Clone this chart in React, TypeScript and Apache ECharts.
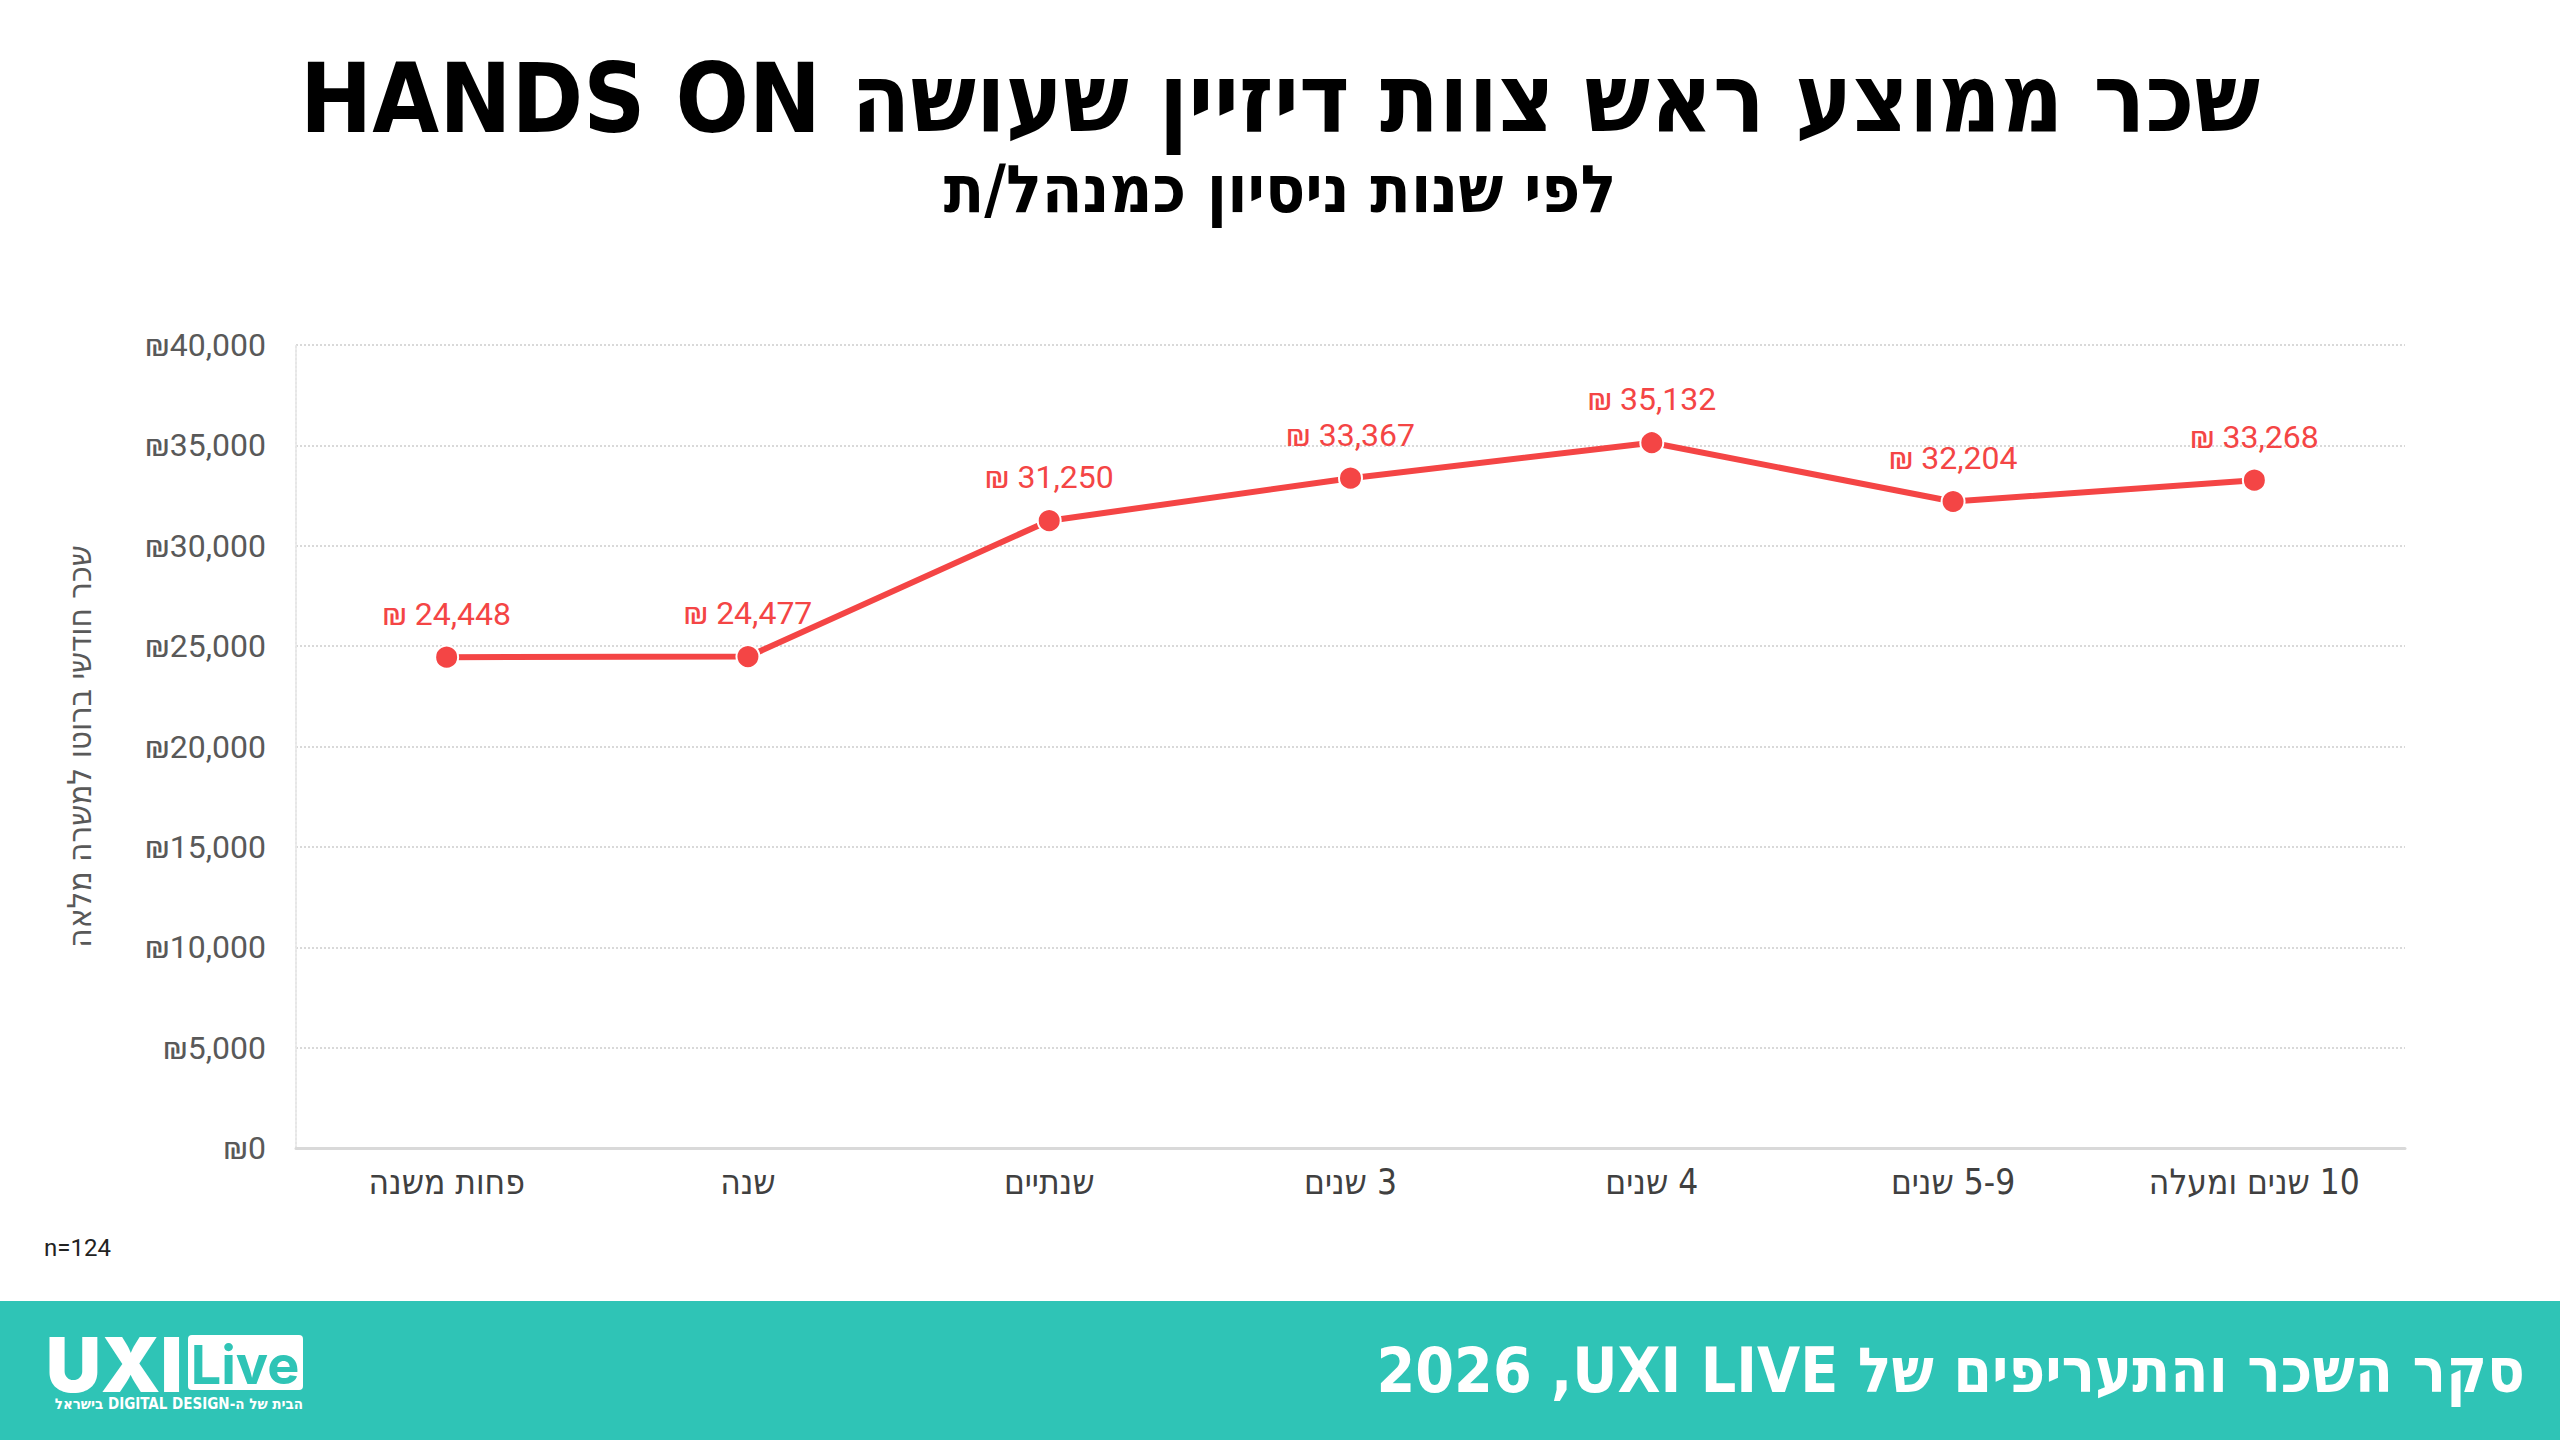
import React, { useEffect, useRef } from "react";
import * as echarts from "echarts";

const RLE = "\u202B";
const PDF = "\u202C";

const titleText = "שכר ממוצע ראש צוות דיזיין שעושה HANDS ON";
const subtitleText = "לפי שנות ניסיון כמנהל/ת";
const yAxisTitle = "שכר חודשי ברוטו למשרה מלאה";
const footerText = "סקר השכר והתעריפים של UXI LIVE,\u200F 2026";
const taglineText = "הבית של ה-DIGITAL DESIGN בישראל";
const sampleNote = "n=124";

const categories = [
  "פחות משנה",
  "שנה",
  "שנתיים",
  "3 שנים",
  "4 שנים",
  "5-9 שנים",
  "10 שנים ומעלה",
];
const salaries = [24448, 24477, 31250, 33367, 35132, 32204, 33268];
const yMin = 0;
const yMax = 40000;
const yInterval = 5000;

const RED = "#F44545";
const TEAL = "#2FC4B6";
const HEB = "'Liberation Sans Narrow', 'DejaVu Sans Condensed', 'DejaVu Sans', sans-serif";
const NUM = "Roboto, 'DejaVu Sans', sans-serif";

const fmt = (v: number) => v.toLocaleString("en-US");

export default function App() {
  const ref = useRef<HTMLDivElement>(null);
  useEffect(() => {
    document.body.style.margin = "0";
    const chart = echarts.init(ref.current!, null, { renderer: "svg" });
    chart.setOption({
      animation: false,
      backgroundColor: "#ffffff",
      grid: { left: 296, right: 155, top: 345, bottom: 292, containLabel: false },
      xAxis: {
        type: "category",
        data: categories,
        boundaryGap: true,
        axisLine: { show: true, lineStyle: { color: "#d9d9d9", width: 3 } },
        axisTick: { show: false },
        axisLabel: {
          fontSize: 35,
          color: "#404040",
          fontFamily: HEB,
          margin: 16,
          formatter: (v: string) => RLE + v + PDF,
        },
        splitLine: { show: false },
      },
      yAxis: {
        type: "value",
        min: yMin,
        max: yMax,
        interval: yInterval,
        name: yAxisTitle,
        nameLocation: "middle",
        nameRotate: 90,
        nameGap: 200,
        nameTextStyle: { fontSize: 33, color: "#595959", fontFamily: HEB },
        axisLine: { show: true, lineStyle: { color: "#e6e6e6", width: 2, type: "dotted" } },
        axisTick: { show: false },
        axisLabel: {
          fontSize: 32,
          color: "#595959",
          fontFamily: NUM,
          margin: 30,
          formatter: (v: number) => "₪" + fmt(v),
        },
        splitLine: { show: true, lineStyle: { color: "#d9d9d9", width: 2, type: "dotted" } },
      },
      series: [
        {
          type: "line",
          data: salaries,
          symbol: "circle",
          symbolSize: 23,
          lineStyle: { color: RED, width: 6 },
          itemStyle: { color: RED, borderColor: "#ffffff", borderWidth: 2 },
          label: {
            show: true,
            position: "top",
            distance: 15,
            fontSize: 32,
            color: RED,
            fontFamily: NUM,
            formatter: (p: any) => "₪ " + fmt(p.value),
          },
          z: 3,
        },
      ],
      graphic: [
        {
          type: "text",
          style: {
            text: RLE + titleText + PDF,
            x: 1280,
            y: 99,
            align: "center",
            verticalAlign: "middle",
            fill: "#000000",
            fontSize: 96,
            fontWeight: 900,
            fontFamily: HEB,
          },
        },
        {
          type: "text",
          style: {
            text: RLE + subtitleText + PDF,
            x: 1280,
            y: 189,
            align: "center",
            verticalAlign: "middle",
            fill: "#000000",
            fontSize: 66,
            fontWeight: 900,
            fontFamily: HEB,
          },
        },
        {
          type: "text",
          style: {
            text: sampleNote,
            x: 44,
            y: 1248,
            align: "left",
            verticalAlign: "middle",
            fill: "#222222",
            fontSize: 24,
            fontFamily: NUM,
          },
        },
        {
          type: "rect",
          shape: { x: 0, y: 1301, width: 2560, height: 139 },
          style: { fill: TEAL },
        },
        {
          type: "text",
          style: {
            text: RLE + footerText + PDF,
            x: 2525,
            y: 1370,
            align: "right",
            verticalAlign: "middle",
            fill: "#ffffff",
            fontSize: 62,
            fontWeight: 900,
            fontFamily: HEB,
          },
        },
        {
          type: "text",
          style: {
            text: "UXI",
            x: 46,
            y: 1364,
            align: "left",
            verticalAlign: "middle",
            fill: "#ffffff",
            fontSize: 76,
            fontWeight: 900,
            fontFamily: "Inter, Roboto, sans-serif",
          },
        },
        {
          type: "rect",
          shape: { x: 188, y: 1335, width: 115, height: 55, r: 4 },
          style: { fill: "#ffffff" },
        },
        {
          type: "text",
          style: {
            text: "Live",
            x: 245,
            y: 1364,
            align: "center",
            verticalAlign: "middle",
            fill: TEAL,
            fontSize: 54,
            fontWeight: 700,
            fontFamily: "Inter, Roboto, sans-serif",
          },
        },
        {
          type: "text",
          style: {
            text: RLE + taglineText + PDF,
            x: 303,
            y: 1404,
            align: "right",
            verticalAlign: "middle",
            fill: "#ffffff",
            fontSize: 15,
            fontWeight: 700,
            fontFamily: HEB,
          },
        },
      ],
    });
    return () => chart.dispose();
  }, []);
  return (
    <div
      ref={ref}
      style={{ position: "fixed", left: 0, top: 0, width: 2560, height: 1440 }}
    />
  );
}
